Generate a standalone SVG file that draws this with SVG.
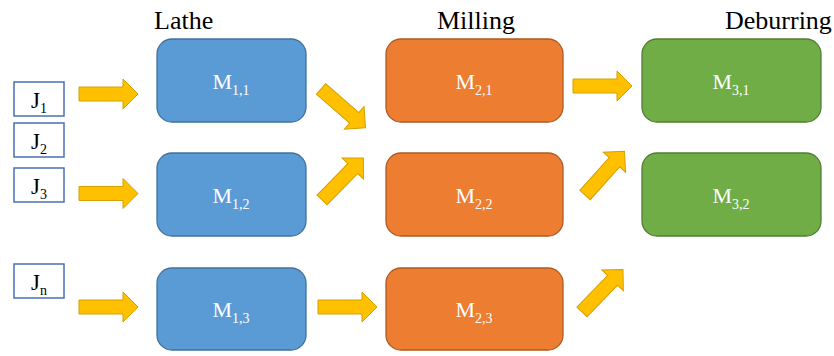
<svg xmlns="http://www.w3.org/2000/svg" width="834" height="356" viewBox="0 0 834 356" font-family="'Liberation Serif', 'DejaVu Serif', serif">
<style>
text{font-family:"Liberation Serif","DejaVu Serif",serif;fill:#000}
.h{font-size:26px}
.m{font-size:22px;fill:#fff;text-anchor:middle}
.j{font-size:23px;text-anchor:middle}
.s{font-size:14px}
.b{fill:#5B9BD5;stroke:#41719C;stroke-width:1.3}
.o{fill:#ED7D31;stroke:#AE5A21;stroke-width:1.3}
.g{fill:#70AD47;stroke:#507E32;stroke-width:1.3}
.jb{fill:#fff;stroke:#4A6FB5;stroke-width:1.5}
.a{fill:#FFC000;stroke:#D4A000;stroke-width:1}
</style>
<defs>
<path id="arr" d="M0,-7 H44 V-15 L59,0 L44,15 V7 H0 Z"/>
</defs>
<g id="labels">
<text class="h" x="154" y="29">Lathe</text>
<text class="h" x="437" y="29">Milling</text>
<text class="h" x="725" y="29">Deburring</text>
</g>
<g id="J1"><rect class="jb" x="14" y="82" width="50" height="34"/><text class="j" x="39" y="108">J<tspan class="s" dy="5">1</tspan></text></g>
<g id="J2"><rect class="jb" x="14" y="123" width="50" height="34"/><text class="j" x="39" y="149">J<tspan class="s" dy="5">2</tspan></text></g>
<g id="J3"><rect class="jb" x="14" y="168" width="50" height="34"/><text class="j" x="39" y="194">J<tspan class="s" dy="5">3</tspan></text></g>
<g id="Jn"><rect class="jb" x="14" y="264" width="50" height="34"/><text class="j" x="39" y="290">J<tspan class="s" dy="5">n</tspan></text></g>
<g id="M11"><rect class="b" x="157" y="39" width="149" height="83" rx="15"/><text class="m" x="231" y="89">M<tspan class="s" dy="6">1,1</tspan></text></g>
<g id="M12"><rect class="b" x="157" y="153" width="149" height="83" rx="15"/><text class="m" x="231" y="203">M<tspan class="s" dy="6">1,2</tspan></text></g>
<g id="M13"><rect class="b" x="157" y="268" width="149" height="82" rx="15"/><text class="m" x="231" y="317">M<tspan class="s" dy="6">1,3</tspan></text></g>
<g id="M21"><rect class="o" x="386" y="39" width="177" height="83" rx="15"/><text class="m" x="474" y="89">M<tspan class="s" dy="6">2,1</tspan></text></g>
<g id="M22"><rect class="o" x="386" y="153" width="177" height="83" rx="15"/><text class="m" x="474" y="203">M<tspan class="s" dy="6">2,2</tspan></text></g>
<g id="M23"><rect class="o" x="386" y="268" width="177" height="82" rx="15"/><text class="m" x="474" y="317">M<tspan class="s" dy="6">2,3</tspan></text></g>
<g id="M31"><rect class="g" x="642" y="39" width="179" height="83" rx="15"/><text class="m" x="731" y="89">M<tspan class="s" dy="6">3,1</tspan></text></g>
<g id="M32"><rect class="g" x="642" y="153" width="179" height="83" rx="15"/><text class="m" x="731" y="203">M<tspan class="s" dy="6">3,2</tspan></text></g>
<g id="connectors">
<use href="#arr" class="a" transform="translate(79,94)"/>
<use href="#arr" class="a" transform="translate(79,193.5)"/>
<use href="#arr" class="a" transform="translate(79,307)"/>
<use href="#arr" class="a" transform="translate(318,307)"/>
<use href="#arr" class="a" transform="translate(573,86)"/>
<use href="#arr" class="a" transform="translate(321,89) rotate(41)"/>
<use href="#arr" class="a" transform="translate(322,200) rotate(-45.5)"/>
<use href="#arr" class="a" transform="translate(585,195) rotate(-48)"/>
<use href="#arr" class="a" transform="translate(582,312) rotate(-46)"/>
</g>
</svg>
